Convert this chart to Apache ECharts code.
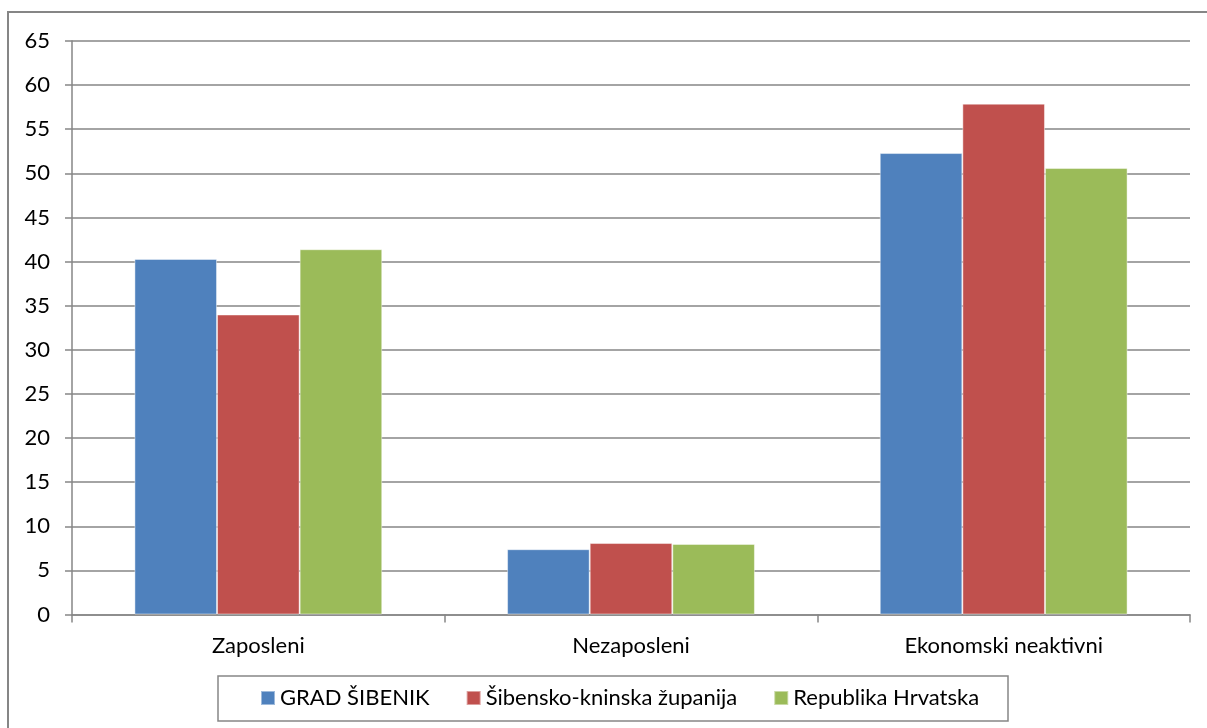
<!DOCTYPE html>
<html>
<head>
<meta charset="utf-8">
<script src="https://cdn.jsdelivr.net/npm/echarts@6/dist/echarts.min.js"></script>
<style>
html,body{margin:0;padding:0;background:#fff;}
#chart{width:1207px;height:728px;}
</style>
</head>
<body>
<div id="chart"></div>
<script>
var categories = ['Zaposleni', 'Nezaposleni', 'Ekonomski neaktivni'];
var seriesNames = ['GRAD ŠIBENIK', 'Šibensko-kninska županija', 'Republika Hrvatska'];
var gradSibenik = [40.3, 7.4, 52.3];
var zupanija = [34.0, 8.1, 57.9];
var hrvatska = [41.4, 8.0, 50.6];
var colors = ['#4F81BD', '#C0504D', '#9BBB59'];

var FONT = 'Lato, "Liberation Sans", sans-serif';
var GRAY = '#868686';

var chart = echarts.init(document.getElementById('chart'), null, {renderer: 'canvas'});

function barSeries(name, data, color) {
  return {
    name: name,
    type: 'bar',
    data: data,
    barGap: '0%',
    barCategoryGap: '33.5%',
    itemStyle: {color: color, borderColor: 'rgba(255,255,255,0.45)', borderWidth: 1},
    emphasis: {disabled: true}
  };
}

chart.setOption({
  animation: false,
  backgroundColor: '#fff',
  color: colors,
  graphic: [
    {type: 'rect', shape: {x: 8, y: 12, width: 1220, height: 740}, style: {fill: null, stroke: GRAY, lineWidth: 2}, silent: true},
    {type: 'rect', shape: {x: 218, y: 676, width: 790, height: 45}, style: {fill: null, stroke: GRAY, lineWidth: 1.5}, silent: true}
  ],
  grid: {left: 72, right: 17, top: 41, bottom: 113.5, containLabel: false},
  legend: {
    data: seriesNames,
    left: 260,
    top: 686,
    icon: 'rect',
    itemWidth: 14,
    itemHeight: 14,
    itemGap: 36,
    padding: 0,
    textStyle: {fontFamily: FONT, fontSize: 22, color: '#000', lineHeight: 24, padding: [0, 0, 0, 0]},
    selectedMode: false
  },
  xAxis: {
    type: 'category',
    data: categories,
    boundaryGap: true,
    axisLine: {show: true, lineStyle: {color: GRAY, width: 1.5}},
    axisTick: {show: true, length: 8, alignWithLabel: false, lineStyle: {color: GRAY, width: 1.5}},
    axisLabel: {fontFamily: FONT, fontSize: 22, color: '#000', margin: 20},
    splitLine: {show: false}
  },
  yAxis: {
    type: 'value',
    min: 0,
    max: 65,
    interval: 5,
    axisLine: {show: true, lineStyle: {color: GRAY, width: 1.5}},
    axisTick: {show: true, length: 7, lineStyle: {color: GRAY, width: 1.5}},
    axisLabel: {fontFamily: FONT, fontSize: 22, color: '#000', margin: 22},
    splitLine: {show: true, lineStyle: {color: GRAY, width: 1.5}}
  },
  series: [
    barSeries(seriesNames[0], gradSibenik, colors[0]),
    barSeries(seriesNames[1], zupanija, colors[1]),
    barSeries(seriesNames[2], hrvatska, colors[2])
  ]
});
</script>
</body>
</html>
